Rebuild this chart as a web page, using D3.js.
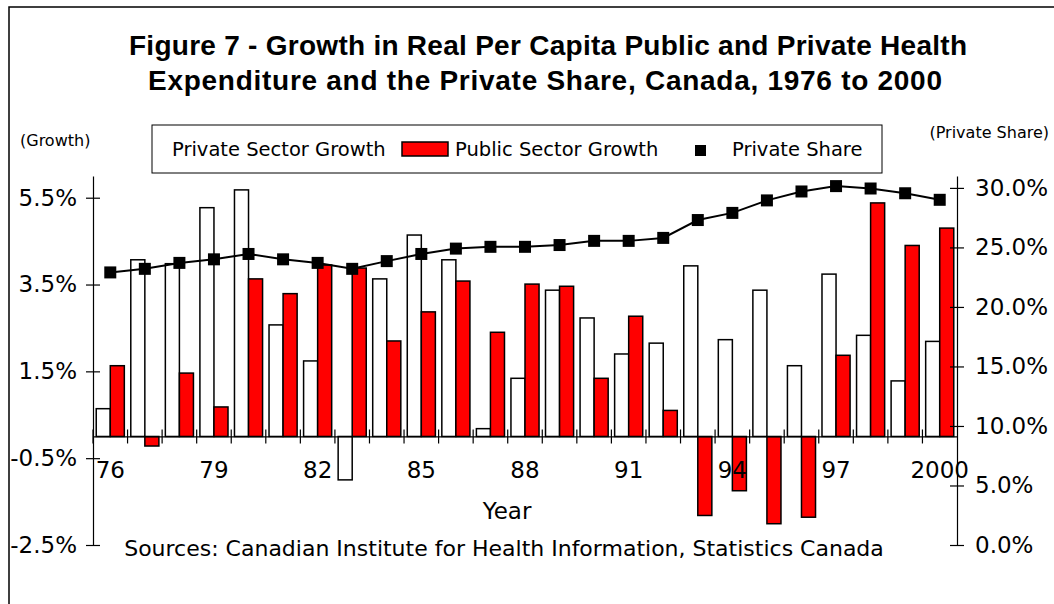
<!DOCTYPE html>
<html>
  <head>
    <meta charset="utf-8" />
    <title>Figure 7 - Public and Private Health Expenditure Growth</title>
    <script src="https://d3js.org/d3.v7.min.js"></script>
    <style>
body {
  margin: 0;
  background: #fff;
}
svg {
  font-family: "DejaVu Sans", sans-serif;
}
.axis path,
.axis line {
  stroke: #000;
  stroke-width: 1.2px;
}
.axis text {
  font-family: "DejaVu Sans", sans-serif;
  font-size: 23px;
  fill: #000;
}
.title {
  font-family: "Liberation Sans", Arial, sans-serif;
  font-weight: bold;
  font-size: 28px;
}
    </style>
  </head>
  <body>
    <div id="graphic"></div>
    <script>
// data
const years = [1976, 1977, 1978, 1979, 1980, 1981, 1982, 1983, 1984, 1985, 1986, 1987, 1988,
               1989, 1990, 1991, 1992, 1993, 1994, 1995, 1996, 1997, 1998, 1999, 2000];
const privateGrowth = [0.64, 4.07, 3.98, 5.27, 5.68, 2.57, 1.74, -1.0, 3.63, 4.64, 4.07, 0.18, 1.34,
                       3.37, 2.73, 1.9, 2.15, 3.93, 2.23, 3.37, 1.63, 3.74, 2.33, 1.28, 2.19];
const publicGrowth = [1.63, -0.22, 1.46, 0.68, 3.63, 3.29, 3.95, 3.88, 2.2, 2.87, 3.58, 2.4, 3.51,
                      3.46, 1.34, 2.77, 0.6, -1.82, -1.25, -2.01, -1.86, 1.87, 5.38, 4.4, 4.8];
const privateShare = [22.9, 23.2, 23.7, 24.0, 24.45, 24.0, 23.7, 23.2, 23.85, 24.45, 24.9, 25.05, 25.05,
                      25.2, 25.55, 25.55, 25.8, 27.3, 27.9, 28.95, 29.7, 30.15, 29.95, 29.55, 29.0];

const growthTicks = [-2.5, -0.5, 1.5, 3.5, 5.5];
const shareTicks = [0, 5, 10, 15, 20, 25, 30];
const yearTickValues = [1976, 1979, 1982, 1985, 1988, 1991, 1994, 1997, 2000];
const yearTickLabels = ["76", "79", "82", "85", "88", "91", "94", "97", "2000"];
const seriesNames = ["Private Sector Growth", "Public Sector Growth", "Private Share"];

const width = 1054;
const height = 604;
const plot = { left: 93, right: 957, top: 176, bottom: 545 };

const svg = d3.select("#graphic").append("svg")
  .attr("width", width)
  .attr("height", height);

// frame (top and left edge only)
svg.append("path")
  .attr("d", `M9,${height}V7H${width}`)
  .attr("fill", "none")
  .attr("stroke", "#000")
  .attr("stroke-width", 1.5);

// title
const title = svg.append("g").attr("class", "title");
title.append("text")
  .attr("x", 548).attr("y", 55)
  .attr("text-anchor", "middle")
  .attr("textLength", 838).attr("lengthAdjust", "spacing")
  .text("Figure 7 - Growth in Real Per Capita Public and Private Health");
title.append("text")
  .attr("x", 545).attr("y", 90)
  .attr("text-anchor", "middle")
  .attr("textLength", 794).attr("lengthAdjust", "spacing")
  .text("Expenditure and the Private Share, Canada, 1976 to 2000");

// scales
const x = d3.scaleBand()
  .domain(years)
  .range([plot.left, plot.right]);

const xSub = d3.scaleBand()
  .domain(["private", "public"])
  .range([0, x.bandwidth()])
  .paddingOuter(0.23);

const yGrowth = d3.scaleLinear()
  .domain([-2.5, 6])
  .range([plot.bottom, plot.top]);

const yShare = d3.scaleLinear()
  .domain([0, 31])
  .range([plot.bottom, plot.top]);

// bars
const barData = years.flatMap((yr, i) => [
  { year: yr, key: "private", value: privateGrowth[i] },
  { year: yr, key: "public", value: publicGrowth[i] }
]);

svg.append("g")
  .selectAll("rect")
  .data(barData)
  .join("rect")
  .attr("x", d => x(d.year) + xSub(d.key))
  .attr("y", d => yGrowth(Math.max(0, d.value)))
  .attr("width", xSub.bandwidth())
  .attr("height", d => Math.abs(yGrowth(d.value) - yGrowth(0)))
  .attr("fill", d => d.key === "public" ? "#ff0000" : "#fff")
  .attr("stroke", "#000")
  .attr("stroke-width", 1.5);

// x axis along zero
const xAxis = svg.append("g")
  .attr("class", "axis")
  .attr("transform", `translate(0,${yGrowth(0)})`)
  .call(d3.axisBottom(x)
    .tickSize(0)
    .tickSizeOuter(0)
    .tickPadding(25)
    .tickFormat(d => {
      const k = yearTickValues.indexOf(d);
      return k < 0 ? "" : yearTickLabels[k];
    }));

// tick marks sit on the band edges and cross the line
xAxis.selectAll(".tick")
  .append("line")
  .attr("x1", -x.bandwidth() / 2).attr("x2", -x.bandwidth() / 2)
  .attr("y1", -7).attr("y2", 7);

// left axis
const yAxisLeft = svg.append("g")
  .attr("class", "axis")
  .attr("transform", `translate(${plot.left},0)`)
  .call(d3.axisLeft(yGrowth)
    .tickValues(growthTicks)
    .tickSize(0)
    .tickSizeOuter(0)
    .tickPadding(16)
    .tickFormat(d => d.toFixed(1) + "%"));
yAxisLeft.selectAll(".tick line").attr("x1", -7).attr("x2", 7);

// right axis
const yAxisRight = svg.append("g")
  .attr("class", "axis")
  .attr("transform", `translate(${plot.right},0)`)
  .call(d3.axisRight(yShare)
    .tickValues(shareTicks)
    .tickSize(0)
    .tickSizeOuter(0)
    .tickPadding(18)
    .tickFormat(d => d.toFixed(1) + "%"));
yAxisRight.selectAll(".tick line").attr("x1", -7).attr("x2", 7);

// private share line + markers
const line = d3.line()
  .x((d, i) => x(years[i]) + x.bandwidth() / 2)
  .y(d => yShare(d));

svg.append("path")
  .datum(privateShare)
  .attr("d", line)
  .attr("fill", "none")
  .attr("stroke", "#000")
  .attr("stroke-width", 2);

svg.append("g")
  .selectAll("rect")
  .data(privateShare)
  .join("rect")
  .attr("x", (d, i) => x(years[i]) + x.bandwidth() / 2 - 6)
  .attr("y", d => yShare(d) - 6)
  .attr("width", 12)
  .attr("height", 12)
  .attr("fill", "#000");

// axis titles
svg.append("text")
  .attr("x", 20).attr("y", 146)
  .attr("font-size", 16)
  .text("(Growth)");

svg.append("text")
  .attr("x", 1049).attr("y", 138)
  .attr("text-anchor", "end")
  .attr("font-size", 16)
  .text("(Private Share)");

svg.append("text")
  .attr("x", 507).attr("y", 519)
  .attr("text-anchor", "middle")
  .attr("font-size", 23)
  .text("Year");

svg.append("text")
  .attr("x", 504).attr("y", 556)
  .attr("text-anchor", "middle")
  .attr("font-size", 22)
  .text("Sources: Canadian Institute for Health Information, Statistics Canada");

// legend
const legend = svg.append("g").attr("font-size", 19.5);

legend.append("rect")
  .attr("x", 152).attr("y", 125)
  .attr("width", 730).attr("height", 48)
  .attr("fill", "#fff")
  .attr("stroke", "#000")
  .attr("stroke-width", 1);

legend.append("text").attr("x", 172).attr("y", 156).text(seriesNames[0]);

legend.append("rect")
  .attr("x", 402).attr("y", 142)
  .attr("width", 46).attr("height", 14)
  .attr("fill", "#ff0000")
  .attr("stroke", "#000")
  .attr("stroke-width", 1.5);
legend.append("text").attr("x", 455).attr("y", 156).text(seriesNames[1]);

legend.append("rect")
  .attr("x", 695).attr("y", 145)
  .attr("width", 11).attr("height", 11)
  .attr("fill", "#000");
legend.append("text").attr("x", 732).attr("y", 156).text(seriesNames[2]);
    </script>
  </body>
</html>
